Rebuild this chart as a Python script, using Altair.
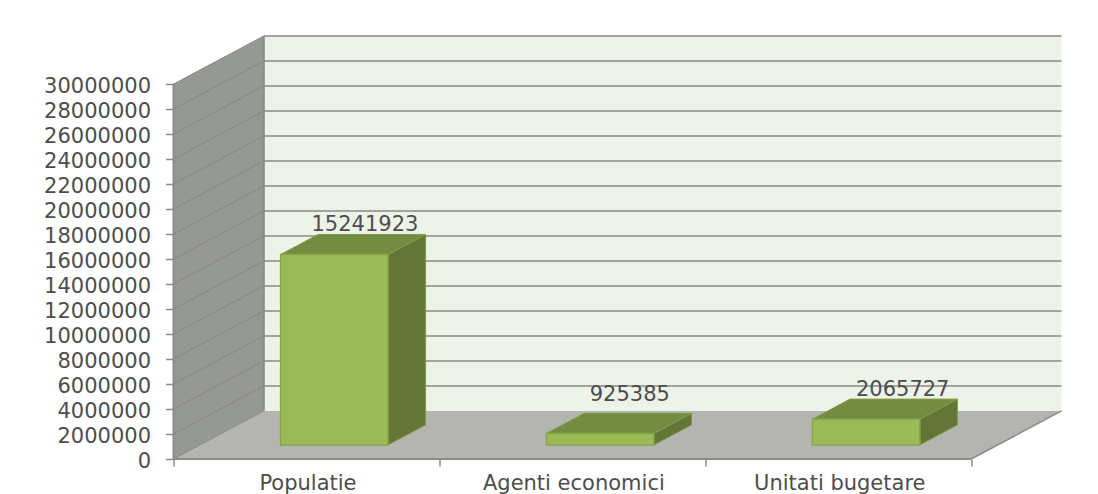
import altair as alt
import pandas as pd

categories = ["Populatie", "Agenti economici", "Unitati bugetare"]
values = [15241923, 925385, 2065727]
y_ticks = list(range(0, 30000001, 2000000))
x_ticks = [0, 1, 2, 3]

# oblique projection of the 3-D box, in data units
DX = 90 / 265
DY = 3850000
YMAX = 30000000
BAR_HALF = 107 / 265 / 2
BAR_SHIFT = 1.5 / 265
D0, D1 = 14 / 48, 34 / 48

xs = alt.Scale(domain=[0, 3 + DX], nice=False, zero=False)
ys = alt.Scale(domain=[0, YMAX + DY], nice=False, zero=False)

GRID = "#a3a4a0"
EDGE = "#8a8c88"
TXT = "#4d4d4d"
FONT = "DejaVu Sans"

x_axis = alt.Axis(values=x_ticks, labels=False, grid=False, domain=False, tickSize=7, tickWidth=1.5,
                  tickColor=EDGE, title=None)
y_axis = alt.Axis(values=y_ticks, format="d", grid=False, domain=False, tickSize=8, tickWidth=1.5,
                  tickColor=EDGE, labelColor=TXT, labelFont=FONT, labelFontSize=21, labelPadding=15,
                  labelBaseline="middle", labelOffset=2, title=None)


def X(f="x"):
    return alt.X(f"{f}:Q", scale=xs, axis=x_axis, title=None)


def Y(f="y"):
    return alt.Y(f"{f}:Q", scale=ys, axis=y_axis, title=None)


# back wall
back = alt.Chart(pd.DataFrame({"x": [DX], "x2": [3 + DX], "y": [DY], "y2": [YMAX + DY]})).mark_rect(
    color="#eef3ea").encode(x=X(), x2="x2:Q", y=Y(), y2="y2:Q")

# side wall
side = alt.Chart(pd.DataFrame({"x": [0, DX], "y": [0, DY], "y2": [YMAX, YMAX + DY]})).mark_area(
    color="#969893").encode(x=X(), y=Y(), y2="y2:Q")

# floor
floor = alt.Chart(pd.DataFrame({"x": [0, DX], "x2": [3, 3 + DX], "y": [0, DY]})).mark_area(
    color="#b4b5b0", orient="horizontal").encode(x=X(), x2="x2:Q", y=Y())

# gridlines on back wall and side wall
ticks_df = pd.DataFrame({"t": y_ticks})
ticks_df["yb"] = ticks_df.t + DY
ticks_df["x0"] = 0.0
ticks_df["xb"] = DX
ticks_df["xe"] = 3 + DX
grid_back = alt.Chart(ticks_df[ticks_df.t > 0]).mark_rule(color=GRID, strokeWidth=2).encode(
    x=X("xb"), x2="xe:Q", y=Y("yb"))
grid_side = alt.Chart(ticks_df).mark_rule(color="#858783", strokeWidth=1).encode(
    x=X("x0"), x2="xb:Q", y=Y("t"), y2="yb:Q")

# floor edges and wall edges
floor_line = alt.Chart(pd.DataFrame({"x": [0], "x2": [3], "y": [0]})).mark_rule(
    color=EDGE, strokeWidth=2).encode(x=X(), x2="x2:Q", y=Y())
right_edge = alt.Chart(pd.DataFrame({"x": [3], "x2": [3 + DX], "y": [0], "y2": [DY]})).mark_rule(
    color=EDGE, strokeWidth=1.5).encode(x=X(), x2="x2:Q", y=Y(), y2="y2:Q")
left_edge = alt.Chart(pd.DataFrame({"x": [0], "y": [0], "y2": [YMAX]})).mark_rule(
    color=EDGE, strokeWidth=2).encode(x=X(), y=Y(), y2="y2:Q")
corner = alt.Chart(pd.DataFrame({"x": [DX], "y": [DY], "y2": [YMAX + DY]})).mark_rule(
    color=EDGE, strokeWidth=2).encode(x=X(), y=Y(), y2="y2:Q")

# bars
front_rows, side_rows, top_rows = [], [], []
for i, (c, v) in enumerate(zip(categories, values)):
    l = i + 0.5 + BAR_SHIFT - BAR_HALF
    r = i + 0.5 + BAR_SHIFT + BAR_HALF
    front_rows.append({"c": c, "x": l + D0 * DX, "x2": r + D0 * DX, "y": D0 * DY, "y2": v + D0 * DY})
    for d in (D0, D1):
        side_rows.append({"c": c, "x": r + d * DX, "y": d * DY, "y2": v + d * DY})
        top_rows.append({"c": c, "x": l + d * DX, "x2": r + d * DX, "y": v + d * DY})

bar_side = alt.Chart(pd.DataFrame(side_rows)).mark_area(
    color="#637637", stroke="#7f9c45", strokeWidth=1).encode(x=X(), y=Y(), y2="y2:Q", detail="c:N")
bar_top = alt.Chart(pd.DataFrame(top_rows)).mark_area(
    color="#748c41", orient="horizontal", stroke="#7f9c45", strokeWidth=1).encode(
    x=X(), x2="x2:Q", y=Y(), detail="c:N")
bar_front = alt.Chart(pd.DataFrame(front_rows)).mark_rect(
    color="#9bbb59", stroke="#86a744", strokeWidth=1.5).encode(x=X(), x2="x2:Q", y=Y(), y2="y2:Q")

# value labels
label_layers = []
for i, (v, dx, dy) in enumerate(zip(values, [-7, -8, -1], [1, -8, 1])):
    df = pd.DataFrame({"x": [i + 0.5 + BAR_SHIFT + D1 * DX], "y": [v + D1 * DY], "t": [str(v)]})
    label_layers.append(alt.Chart(df).mark_text(
        font=FONT, fontSize=21, color=TXT, baseline="bottom", align="center", dx=dx, dy=dy
    ).encode(x=X(), y=Y(), text="t:N"))

# category labels
cat_df = pd.DataFrame({"x": [i + 0.5 + BAR_SHIFT for i in range(3)], "y": [0, 0, 0], "t": categories})
cat_text = alt.Chart(cat_df).mark_text(
    font=FONT, fontSize=21, color=TXT, baseline="middle", align="center", dy=25
).encode(x=X(), y=Y(), text="t:N")

chart = alt.layer(
    back, side, floor, grid_back, grid_side, corner, floor_line, right_edge, left_edge,
    bar_side, bar_top, bar_front, *label_layers, cat_text
).properties(
    width=888, height=423,
    autosize=alt.AutoSizeParams(type="none"),
    padding={"left": 165.5, "top": 28, "right": 28, "bottom": 35},
    background="#ffffff",
).configure_view(stroke=None)

chart.save("out.html", embed_options={"renderer": "svg", "actions": False})
